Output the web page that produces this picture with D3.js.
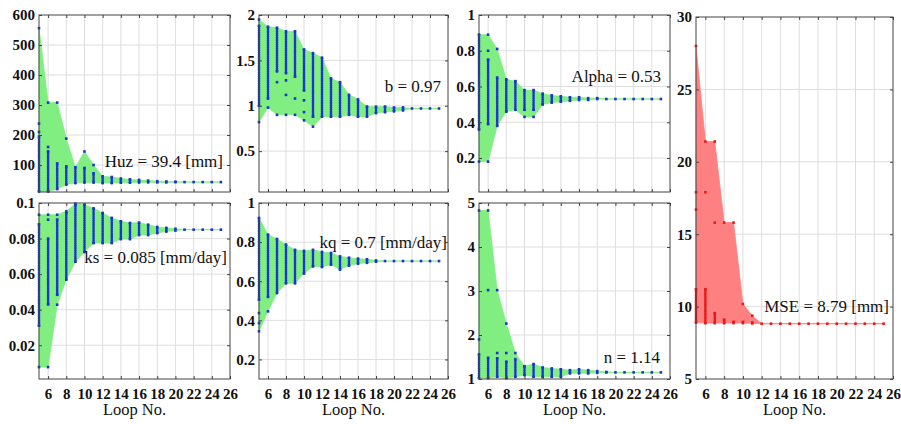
<!DOCTYPE html>
<html><head><meta charset="utf-8">
<script src="https://cdn.jsdelivr.net/npm/d3@7/dist/d3.min.js"></script>
<style>
body{margin:0;background:#fff}
svg text{font-family:"Liberation Serif","Times New Roman",Times,"DejaVu Serif",serif !important;fill:#111}
</style>
</head><body>
<svg id="c" width="901" height="424"></svg>
<script>
// ---------- data ----------
const loops = [5,6,7,8,9,10,11,12,13,14,15,16,17,18,19,20,21,22,23,24,25];
const xTicks = [6,8,10,12,14,16,18,20,22,24,26];

const huzHi = [195,145,105,95,92,90,72,62,60,55,52,50,48,46,45,44,43,43,43,43,43];
const huzLo = [12,12,20,35,40,42,42,40,40,41,41,42,42,42,42,43,43,43,43,43,43];
const huzOut = [[556,238,210],[308,160],[308],[188],[],[145],[100],[],[],[],[],[],[],[],[],[],[],[],[],[],[]];
const huzTicks = [100,200,300,400,500,600];

const bHi = [1.88,1.87,1.86,1.82,1.82,1.62,1.58,1.53,1.30,1.26,1.12,1.07,0.99,0.99,0.99,0.98,0.98,0.97,0.97,0.97,0.97];
const bLo = [1.00,1.08,1.38,1.36,1.32,1.17,0.88,0.88,0.88,0.88,0.90,0.88,0.88,0.92,0.93,0.94,0.95,0.97,0.97,0.97,0.97];
const bOut = [[1.95,0.82],[0.98],[1.26,0.90],[1.28,1.12,0.90],[1.08,0.90],[1.06,0.93,0.84],[0.77],[],[],[],[],[],[],[],[],[],[],[],[],[],[]];
const bTicks = [0.5,1,1.5,2];

const alphaHi = [0.89,0.75,0.65,0.64,0.63,0.58,0.58,0.56,0.55,0.545,0.54,0.54,0.535,0.535,0.53,0.53,0.53,0.53,0.53,0.53,0.53];
const alphaLo = [0.36,0.39,0.38,0.46,0.47,0.47,0.47,0.50,0.51,0.515,0.52,0.525,0.525,0.53,0.53,0.53,0.53,0.53,0.53,0.53,0.53];
const alphaOut = [[0.18],[0.89,0.80,0.18],[0.81],[],[],[0.43],[0.43],[],[],[],[],[],[],[],[],[],[],[],[],[],[]];
const alphaTicks = [0.2,0.4,0.6,0.8,1];

const ksHi = [0.088,0.080,0.0906,0.0944,0.099,0.099,0.097,0.0944,0.0916,0.0897,0.0887,0.089,0.0878,0.0865,0.086,0.0855,0.085,0.085,0.085,0.085,0.085];
const ksLo = [0.031,0.043,0.0484,0.0569,0.067,0.0725,0.0775,0.0775,0.0775,0.0797,0.0797,0.082,0.082,0.0831,0.084,0.0845,0.085,0.085,0.085,0.085,0.085];
const ksOut = [[0.0934,0.0077],[0.0934,0.0906,0.0077],[0.0934,0.0428],[0.0953],[0.0996],[],[],[],[],[],[],[],[],[],[],[],[],[],[],[],[]];
const ksTicks = [0.02,0.04,0.06,0.08,0.1];

const kqHi = [0.923,0.838,0.816,0.787,0.76,0.755,0.76,0.75,0.744,0.727,0.72,0.715,0.712,0.706,0.703,0.703,0.703,0.703,0.703,0.703,0.703];
const kqLo = [0.506,0.52,0.54,0.59,0.59,0.64,0.676,0.673,0.685,0.66,0.68,0.69,0.694,0.70,0.703,0.703,0.703,0.703,0.703,0.703,0.703];
const kqOut = [[0.437,0.386,0.344],[0.446],[],[],[],[],[],[],[],[],[],[],[],[],[],[],[],[],[],[],[]];
const kqTicks = [0.2,0.4,0.6,0.8,1];

const nHi = [1.56,1.48,1.47,1.39,1.45,1.29,1.34,1.26,1.24,1.22,1.20,1.22,1.20,1.18,1.16,1.15,1.15,1.15,1.15,1.15,1.15];
const nLo = [1.02,1.02,1.05,1.02,1.05,1.09,1.05,1.05,1.05,1.05,1.13,1.13,1.13,1.14,1.15,1.15,1.15,1.15,1.15,1.15,1.15];
const nOut = [[4.83,1.9],[4.83,3.02],[3.02,1.59],[2.26,1.59],[1.59],[],[],[],[],[],[],[],[],[],[],[],[],[],[],[],[]];
const nTicks = [1,2,3,4,5];

const mseHi = [11.2,11.2,9.55,9.1,8.95,8.95,8.9,8.82,8.82,8.82,8.82,8.82,8.82,8.82,8.82,8.82,8.82,8.82,8.82,8.82,8.82];
const mseLo = [8.9,8.86,8.86,8.86,8.86,8.86,8.84,8.82,8.82,8.82,8.82,8.82,8.82,8.82,8.82,8.82,8.82,8.82,8.82,8.82,8.82];
const mseOut = [[28.0,17.9,16.7],[21.4,17.9],[21.4,15.8],[15.8],[15.8],[10.18],[9.37],[],[],[],[],[],[],[],[],[],[],[],[],[],[]];
const mseTicks = [5,10,15,20,25,30];

// ---------- layout ----------
const GREEN = "#80ee80", BLUE = "#1a35d0", RED = "#e81818", PINK = "#ff8080";
const FONT = '"Liberation Serif","Times New Roman",Times,"DejaVu Serif",serif';
const panels = [
  {hi:huzHi, lo:huzLo, out:huzOut, dom:[10,600], ticks:huzTicks, box:[39,15,230,192], label:"Huz = 39.4 [mm]", lx:223, ly:167, xl:false, fill:GREEN, dot:BLUE},
  {hi:bHi, lo:bLo, out:bOut, dom:[0.05,2], ticks:bTicks, box:[259,15,448,192], label:"b = 0.97", lx:441, ly:92, xl:false, fill:GREEN, dot:BLUE},
  {hi:alphaHi, lo:alphaLo, out:alphaOut, dom:[0.01,1], ticks:alphaTicks, box:[479,15,670,192], label:"Alpha = 0.53", lx:661, ly:82, xl:false, fill:GREEN, dot:BLUE},
  {hi:ksHi, lo:ksLo, out:ksOut, dom:[0.001,0.1], ticks:ksTicks, box:[39,203,230,379], label:"ks = 0.085 [mm/day]", lx:227, ly:263, xl:true, fill:GREEN, dot:BLUE},
  {hi:kqHi, lo:kqLo, out:kqOut, dom:[0.1,1], ticks:kqTicks, box:[259,203,448,379], label:"kq = 0.7 [mm/day]", lx:447, ly:248, xl:true, fill:GREEN, dot:BLUE},
  {hi:nHi, lo:nLo, out:nOut, dom:[1,5], ticks:nTicks, box:[479,203,670,379], label:"n = 1.14", lx:660, ly:363, xl:true, fill:GREEN, dot:BLUE},
  {hi:mseHi, lo:mseLo, out:mseOut, dom:[5,30], ticks:mseTicks, box:[696,17,893,379], label:"MSE = 8.79 [mm]", lx:889, ly:312, xl:true, fill:PINK, dot:RED}
];

const svg = d3.select("#c");

panels.forEach(p => {
  const [x0,y0,x1,y1] = p.box;
  const x = d3.scaleLinear().domain([5,26]).range([x0,x1]);
  const y = d3.scaleLinear().domain(p.dom).range([y1,y0]);
  const g = svg.append("g");

  // grid
  g.selectAll(".gx").data(xTicks.filter(t => t < 26)).join("line")
    .attr("x1", d => x(d)).attr("x2", d => x(d)).attr("y1", y0).attr("y2", y1)
    .attr("stroke", "#dedede").attr("stroke-width", 1);
  g.selectAll(".gy").data(p.ticks.filter(t => y(t) > y0 + 1 && y(t) < y1 - 1)).join("line")
    .attr("x1", x0).attr("x2", x1).attr("y1", d => y(d)).attr("y2", d => y(d))
    .attr("stroke", "#dedede").attr("stroke-width", 1);

  // envelope
  const env = loops.map((l,i) => ({
    l,
    max: d3.max([p.hi[i], ...p.out[i]]),
    min: d3.min([p.lo[i], ...p.out[i]])
  }));
  g.append("path").datum(env)
    .attr("d", d3.area().x(d => x(d.l)).y0(d => y(d.min)).y1(d => y(d.max)))
    .attr("fill", p.fill).attr("stroke", p.fill).attr("stroke-width", 0.8);

  // dense columns of points
  const cols = loops.map((l,i) => ({l, lo:p.lo[i], hi:p.hi[i]}));
  g.selectAll(".col").data(cols.filter(c => y(c.lo) - y(c.hi) > 2)).join("line")
    .attr("x1", d => x(d.l)).attr("x2", d => x(d.l))
    .attr("y1", d => y(d.lo)).attr("y2", d => y(d.hi))
    .attr("stroke", p.dot).attr("stroke-width", 2.5)
    .attr("stroke-linecap", "round").attr("stroke-dasharray", "1 1.2");
  // end points of columns and single points
  const pts = [];
  loops.forEach((l,i) => {
    pts.push({l, v:p.lo[i]});
    if (p.hi[i] !== p.lo[i]) pts.push({l, v:p.hi[i]});
    p.out[i].forEach(v => pts.push({l, v}));
  });
  g.selectAll(".pt").data(pts).join("rect")
    .attr("x", d => x(d.l) - 1.3).attr("y", d => y(d.v) - 1.3)
    .attr("width", 2.6).attr("height", 2.6).attr("fill", p.dot);

  // axes (ticks inward)
  const fmt = d => String(d);
  const ya = g.append("g").attr("transform", `translate(${x0},0)`)
    .call(d3.axisLeft(y).tickValues(p.ticks).tickSize(-3).tickPadding(4).tickFormat(fmt));
  g.append("g").attr("transform", `translate(${x1},0)`)
    .call(d3.axisRight(y).tickValues(p.ticks).tickSize(-3).tickFormat(""));
  const xa = g.append("g").attr("transform", `translate(0,${y1})`)
    .call(d3.axisBottom(x).tickValues(xTicks).tickSize(-3).tickPadding(9).tickFormat(p.xl ? fmt : ""));
  g.append("g").attr("transform", `translate(0,${y0})`)
    .call(d3.axisTop(x).tickValues(xTicks).tickSize(-3).tickFormat(""));
  g.selectAll(".tick text").style("font-family", FONT).style("font-size", "15px")
    .style("font-weight", "bold");
  g.selectAll(".domain").remove();
  g.selectAll(".tick line").attr("stroke", "#444");

  g.append("rect").attr("x", x0).attr("y", y0).attr("width", x1 - x0).attr("height", y1 - y0)
    .attr("fill", "none").attr("stroke", "#444").attr("stroke-width", 1);

  // annotation
  g.append("text").attr("x", p.lx).attr("y", p.ly).attr("text-anchor", "end")
    .style("font-family", FONT).style("font-size", "17px").text(p.label);

  if (p.xl) {
    g.append("text").attr("x", (x0 + x1) / 2).attr("y", 415).attr("text-anchor", "middle")
      .style("font-family", FONT).style("font-size", "16.5px").text("Loop No.");
  }
});
</script>
</body></html>
